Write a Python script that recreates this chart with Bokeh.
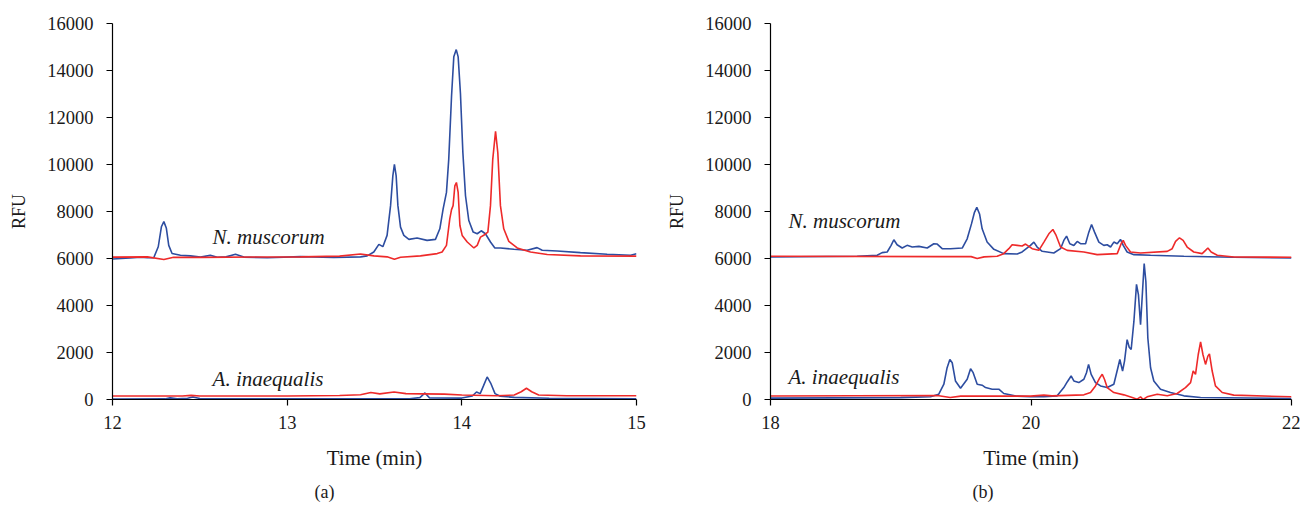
from bokeh.plotting import figure
from bokeh.models import Range1d, Label, FixedTicker, Title
from bokeh.layouts import row
from bokeh.embed import file_html
from bokeh.resources import INLINE

# ---------------- data: panel (a) ----------------
a_nm_blue_t = [12.000, 12.100, 12.160, 12.200, 12.236, 12.262, 12.280, 12.294, 12.308, 12.322, 12.341, 12.389,
               12.446, 12.504, 12.560, 12.600, 12.650, 12.704, 12.752, 12.886, 13.076, 13.267, 13.420, 13.458,
               13.496, 13.525, 13.548, 13.572, 13.592, 13.605, 13.614, 13.624, 13.634, 13.649, 13.668, 13.697,
               13.744, 13.801, 13.849, 13.874, 13.893, 13.912, 13.925, 13.941, 13.954, 13.968, 13.979, 13.992,
               14.006, 14.021, 14.040, 14.065, 14.088, 14.111, 14.135, 14.164, 14.189, 14.221, 14.298, 14.374,
               14.431, 14.460, 14.546, 14.679, 14.832, 14.966, 15.000]
a_nm_blue_v = [5980, 6020, 6050, 6030, 6030, 6500, 7350, 7570, 7300, 6560, 6210, 6140,
               6110, 6060, 6140, 6050, 6070, 6180, 6060, 6030, 6080, 6040, 6070, 6110,
               6279, 6603, 6504, 6983, 8249, 9515, 10008, 9515, 8249, 7334, 6983, 6814,
               6870, 6771, 6814, 7264, 8108, 8812, 10219, 12892, 14580, 14890, 14580, 13033,
               10500, 8671, 7616, 7123, 7053, 7180, 7053, 6701, 6448, 6448, 6392, 6349,
               6462, 6349, 6321, 6251, 6181, 6138, 6200]

a_nm_red_t = [12.000, 12.200, 12.294, 12.350, 12.504, 13.076, 13.300, 13.420, 13.496, 13.572, 13.614, 13.649,
              13.763, 13.859, 13.887, 13.912, 13.931, 13.941, 13.950, 13.960, 13.969, 13.979, 13.989, 14.002,
              14.031, 14.069, 14.088, 14.107, 14.130, 14.149, 14.164, 14.177, 14.193, 14.206, 14.221, 14.240,
              14.269, 14.317, 14.393, 14.489, 14.679, 15.000]
a_nm_red_v = [6060, 6070, 5960, 6050, 6050, 6070, 6100, 6190, 6110, 6070, 5970, 6054,
              6110, 6209, 6279, 6560, 7686, 8080, 8249, 9093, 9234, 8812, 7405, 6983,
              6701, 6448, 6560, 6912, 7011, 7123, 8249, 10219, 11415, 10500, 8249, 7264,
              6729, 6448, 6279, 6167, 6110, 6100]

a_ai_blue_t = [12.000, 12.300, 12.330, 12.370, 12.430, 12.460, 12.500, 13.000, 13.700, 13.760, 13.789, 13.815,
               14.000, 14.060, 14.084, 14.105, 14.125, 14.145, 14.165, 14.190, 14.220, 14.300, 14.500, 15.000]
a_ai_blue_v = [20, 25, 70, 30, 50, 110, 40, 30, 30, 80, 280, 70,
               60, 150, 320, 250, 600, 960, 700, 250, 140, 90, 50, 30]

a_ai_red_t = [12.000, 12.400, 12.450, 12.500, 13.000, 13.300, 13.420, 13.479, 13.530, 13.612, 13.680, 13.780,
              13.900, 14.000, 14.200, 14.300, 14.340, 14.370, 14.400, 14.440, 14.600, 15.000]
a_ai_red_v = [150, 150, 175, 150, 150, 170, 200, 300, 240, 320, 250, 240,
              230, 190, 160, 190, 330, 480, 330, 190, 160, 160]

# ---------------- data: panel (b) ----------------
b_nm_blue_t = [18.000, 18.665, 18.819, 18.857, 18.896, 18.926, 18.947, 18.972, 19.011, 19.049, 19.088, 19.139,
               19.203, 19.254, 19.280, 19.318, 19.382, 19.472, 19.510, 19.543, 19.566, 19.584, 19.605, 19.625,
               19.663, 19.715, 19.791, 19.894, 19.932, 19.996, 20.022, 20.047, 20.086, 20.175, 20.227, 20.252,
               20.273, 20.298, 20.329, 20.355, 20.380, 20.419, 20.444, 20.465, 20.488, 20.521, 20.559, 20.585,
               20.611, 20.636, 20.662, 20.687, 20.708, 20.738, 20.790, 20.918, 21.174, 21.557, 22.000]
b_nm_blue_v = [6066, 6094, 6137, 6249, 6277, 6559, 6798, 6587, 6446, 6559, 6489, 6517,
               6446, 6629, 6615, 6418, 6418, 6446, 6840, 7473, 7966, 8177, 7895, 7262,
               6700, 6390, 6207, 6190, 6277, 6558, 6699, 6488, 6305, 6235, 6418, 6769,
               6952, 6629, 6558, 6727, 6629, 6629, 7121, 7445, 7121, 6699, 6558, 6586,
               6488, 6699, 6629, 6812, 6558, 6277, 6164, 6136, 6094, 6052, 6024]

b_nm_red_t = [18.000, 19.300, 19.540, 19.587, 19.640, 19.740, 19.790, 19.830, 19.855, 19.894, 19.932, 19.958,
              20.009, 20.060, 20.099, 20.137, 20.168, 20.193, 20.227, 20.278, 20.406, 20.508, 20.662, 20.692,
              20.708, 20.726, 20.764, 20.841, 21.046, 21.084, 21.110, 21.140, 21.168, 21.199, 21.250, 21.314,
              21.340, 21.358, 21.383, 21.430, 21.557, 22.000]
b_nm_red_v = [6094, 6080, 6080, 5996, 6070, 6094, 6207, 6418, 6587, 6559, 6531, 6615,
              6418, 6347, 6699, 7051, 7234, 6980, 6488, 6347, 6277, 6164, 6207, 6629,
              6769, 6558, 6277, 6235, 6305, 6418, 6727, 6882, 6769, 6488, 6277, 6207,
              6347, 6446, 6277, 6136, 6066, 6052]

b_ai_blue_t = [18.000, 19.000, 19.228, 19.292, 19.331, 19.356, 19.377, 19.395, 19.420, 19.459, 19.510, 19.536,
               19.556, 19.587, 19.625, 19.651, 19.702, 19.753, 19.791, 19.894, 19.996, 20.099, 20.201, 20.252,
               20.278, 20.308, 20.329, 20.367, 20.406, 20.426, 20.442, 20.462, 20.495, 20.534, 20.585, 20.636,
               20.667, 20.682, 20.703, 20.718, 20.738, 20.754, 20.769, 20.790, 20.810, 20.825, 20.841, 20.856,
               20.869, 20.882, 20.897, 20.918, 20.943, 20.994, 21.071, 21.174, 21.302, 22.000]
b_ai_blue_v = [60, 80, 115, 227, 650, 1353, 1705, 1564, 790, 480, 861, 1311,
               1142, 650, 608, 509, 438, 438, 255, 142, 115, 114, 156, 508,
               747, 1001, 789, 719, 860, 1141, 1493, 1071, 719, 578, 508, 649,
               1352, 1704, 1212, 1634, 2548, 2225, 2126, 3322, 4898, 4448, 3181, 4588,
               5784, 5010, 2619, 1352, 789, 438, 297, 156, 86, 44]

b_ai_red_t = [18.000, 19.280, 19.380, 19.460, 19.996, 20.099, 20.160, 20.406, 20.457, 20.495, 20.529, 20.547,
              20.564, 20.585, 20.636, 20.713, 20.777, 20.815, 20.841, 20.861, 20.892, 20.969, 21.046, 21.122,
              21.186, 21.225, 21.245, 21.263, 21.284, 21.302, 21.320, 21.340, 21.358, 21.370, 21.391, 21.416,
              21.468, 21.557, 22.000]
b_ai_red_v = [150, 171, 87, 143, 143, 185, 156, 198, 297, 578, 930, 1071,
              860, 508, 297, 198, 86, 15, 114, 0, 114, 227, 156, 255,
              508, 719, 1212, 1071, 1915, 2450, 1915, 1493, 1845, 1943, 1212, 578,
              297, 185, 114]

y_ticks = [0, 2000, 4000, 6000, 8000, 10000, 12000, 14000, 16000]
a_x_ticks = [12, 13, 14, 15]
b_x_ticks = [18, 20, 22]
species = ["N. muscorum", "A. inaequalis"]

BLUE = "#2D4DA0"
RED = "#EE2A2A"
FONT = "Liberation Serif"
TXT = "#1a1a1a"


def make_panel(xr, xticks, series, panel_label, label_x, n_y, a_y, width, border_left, border_right):
    p = figure(width=width, height=508, x_range=Range1d(*xr), y_range=Range1d(0, 16000),
               output_backend="svg", toolbar_location=None,
               min_border_left=border_left, min_border_right=border_right,
               min_border_top=23, min_border_bottom=106)
    p.grid.visible = False
    p.outline_line_color = None
    p.background_fill_color = "white"
    p.border_fill_color = "white"
    for ax in (p.xaxis[0], p.yaxis[0]):
        ax.axis_line_color = "black"
        ax.axis_line_width = 1.2
        ax.major_tick_line_color = "black"
        ax.major_tick_line_width = 1.2
        ax.major_tick_in = 0
        ax.major_tick_out = 6
        ax.minor_tick_line_color = None
        ax.major_label_text_font = FONT
        ax.major_label_text_font_size = "18.5px"
        ax.major_label_text_color = TXT
        ax.axis_label_text_font = FONT
        ax.axis_label_text_font_style = "normal"
        ax.axis_label_text_color = TXT
    p.xaxis[0].ticker = FixedTicker(ticks=xticks)
    p.yaxis[0].ticker = FixedTicker(ticks=y_ticks)
    p.xaxis[0].axis_label = "Time (min)"
    p.yaxis[0].axis_label = "RFU"
    p.xaxis[0].axis_label_text_font_size = "21px"
    p.yaxis[0].axis_label_text_font_size = "18px"
    p.xaxis[0].major_label_standoff = 10
    p.yaxis[0].major_label_standoff = 13
    p.xaxis[0].axis_label_standoff = 14
    p.yaxis[0].axis_label_standoff = 15

    for t, v, c in series:
        p.line(t, v, line_color=c, line_width=1.6)

    p.add_layout(Label(x=label_x, y=n_y, text=species[0], text_font=FONT, text_font_size="21px",
                       text_font_style="italic", text_color=TXT, text_baseline="alphabetic"))
    p.add_layout(Label(x=label_x, y=a_y, text=species[1], text_font=FONT, text_font_size="21px",
                       text_font_style="italic", text_color=TXT, text_baseline="alphabetic"))
    p.add_layout(Title(text=panel_label, align="left", offset=202, text_font=FONT,
                       text_font_size="18px", text_font_style="normal", text_color=TXT,
                       standoff=14), "below")
    return p


p1 = make_panel((12, 15), a_x_ticks,
                [(a_nm_blue_t, a_nm_blue_v, BLUE), (a_nm_red_t, a_nm_red_v, RED),
                 (a_ai_blue_t, a_ai_blue_v, BLUE), (a_ai_red_t, a_ai_red_v, RED)],
                "(a)", 12.573, 6925, 888, 660, 112, 24)
p2 = make_panel((18, 22), b_x_ticks,
                [(b_nm_blue_t, b_nm_blue_v, BLUE), (b_nm_red_t, b_nm_red_v, RED),
                 (b_ai_blue_t, b_ai_blue_v, BLUE), (b_ai_red_t, b_ai_red_v, RED)],
                "(b)", 18.138, 7600, 972, 640, 110, 9)

layout = row(p1, p2)
open("out.html", "w").write(file_html(layout, INLINE))
